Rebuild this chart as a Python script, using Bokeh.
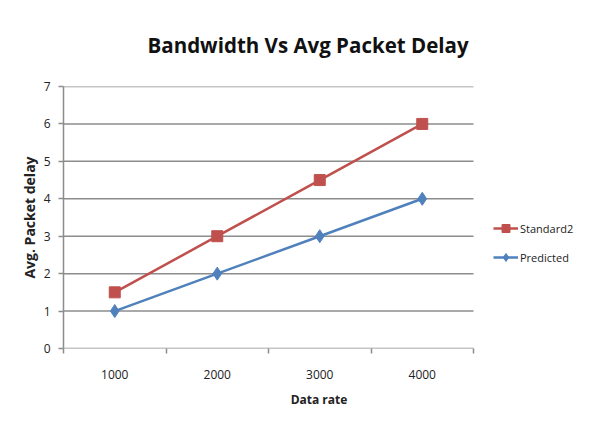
from bokeh.plotting import figure
from bokeh.models import FixedTicker, Legend, LegendItem, Range1d
from bokeh.embed import file_html
from bokeh.resources import INLINE

categories = ["1000", "2000", "3000", "4000"]
standard2 = [1.5, 3.0, 4.5, 6.0]
predicted = [1.0, 2.0, 3.0, 4.0]
y_ticks = [0, 1, 2, 3, 4, 5, 6, 7]

n = len(categories)
xs = list(range(1, n + 1))
boundaries = [i + 0.5 for i in range(0, n + 1)]

RED = "#C0504D"
BLUE = "#4F81BD"
GRID = "#8c8c8c"
FONT = "Open Sans"

W, H = 574, 410
LEFT, TOP, BOTTOM = 63, 81, 53
PLOT_W = 410  # width of the category area in px
frame_w = W - LEFT
x_end = 0.5 + n * frame_w / PLOT_W

p = figure(width=W, height=H, output_backend="svg", toolbar_location=None,
           x_range=Range1d(0.5, x_end), y_range=Range1d(0, 7),
           min_border_left=LEFT, min_border_right=0, min_border_top=TOP, min_border_bottom=BOTTOM)

p.title.text = "Bandwidth Vs Avg Packet Delay"
p.title.text_font = FONT
p.title.text_font_size = "20.5px"
p.title.text_font_style = "bold"
p.title.align = "left"
p.title.offset = 84
p.title.standoff = 56
p.title.text_color = "#111111"

p.outline_line_color = None
p.xgrid.grid_line_color = None
p.ygrid.grid_line_color = None

# horizontal gridlines limited to the category area
p.segment(x0=[boundaries[0]] * len(y_ticks), x1=[boundaries[-1]] * len(y_ticks),
          y0=y_ticks, y1=y_ticks, line_color=GRID, line_width=1.5)

p.xaxis.ticker = FixedTicker(ticks=xs, minor_ticks=boundaries)
p.xaxis.major_label_overrides = {x: c for x, c in zip(xs, categories)}
p.xaxis.major_tick_out = 0
p.xaxis.major_tick_in = 0
p.xaxis.minor_tick_out = 5
p.xaxis.minor_tick_in = 0
p.xaxis.major_label_standoff = 16
p.xaxis.axis_label = "Data rate"

p.yaxis.ticker = FixedTicker(ticks=y_ticks)
p.yaxis.major_tick_out = 5
p.yaxis.major_tick_in = 0
p.yaxis.minor_tick_out = 0
p.yaxis.minor_tick_in = 0
p.yaxis.major_label_standoff = 8
p.yaxis.axis_label = "Avg. Packet delay"

for ax in (p.xaxis, p.yaxis):
    ax.axis_line_color = GRID
    ax.axis_line_width = 1.5
    ax.major_tick_line_color = GRID
    ax.minor_tick_line_color = GRID
    ax.major_tick_line_width = 1.5
    ax.minor_tick_line_width = 1.5
    ax.major_label_text_font = FONT
    ax.major_label_text_font_size = "12px"
    ax.major_label_text_color = "#222222"
    ax.axis_label_text_font = FONT
    ax.axis_label_text_font_style = "bold"
    ax.axis_label_text_color = "#222222"
p.xaxis.axis_line_color = None
p.xaxis.axis_label_text_font_size = "12px"
p.yaxis.axis_label_text_font_size = "14px"
p.xaxis.axis_label_standoff = 9
p.yaxis.axis_label_standoff = 2

r1 = p.line(xs, standard2, line_color=RED, line_width=2.5)
m1 = p.scatter(xs, standard2, marker="square", size=11, fill_color=RED, line_color=RED)
r2 = p.line(xs, predicted, line_color=BLUE, line_width=2.5)
m2 = p.scatter(xs, predicted, marker="diamond", size=13, fill_color=BLUE, line_color=BLUE)

legend = Legend(items=[LegendItem(label="Standard2", renderers=[r1, m1]),
                       LegendItem(label="Predicted", renderers=[r2, m2])],
                location=(PLOT_W + 20, 81), orientation="vertical")
legend.margin = 0
legend.padding = 0
legend.spacing = 9
legend.glyph_width = 25
legend.glyph_height = 20
legend.label_standoff = 2
legend.label_text_font = FONT
legend.label_text_font_size = "11px"
legend.label_text_color = "#222222"
legend.border_line_alpha = 0
legend.background_fill_alpha = 0
p.add_layout(legend, "center")

open("out.html", "w").write(file_html(p, INLINE))
